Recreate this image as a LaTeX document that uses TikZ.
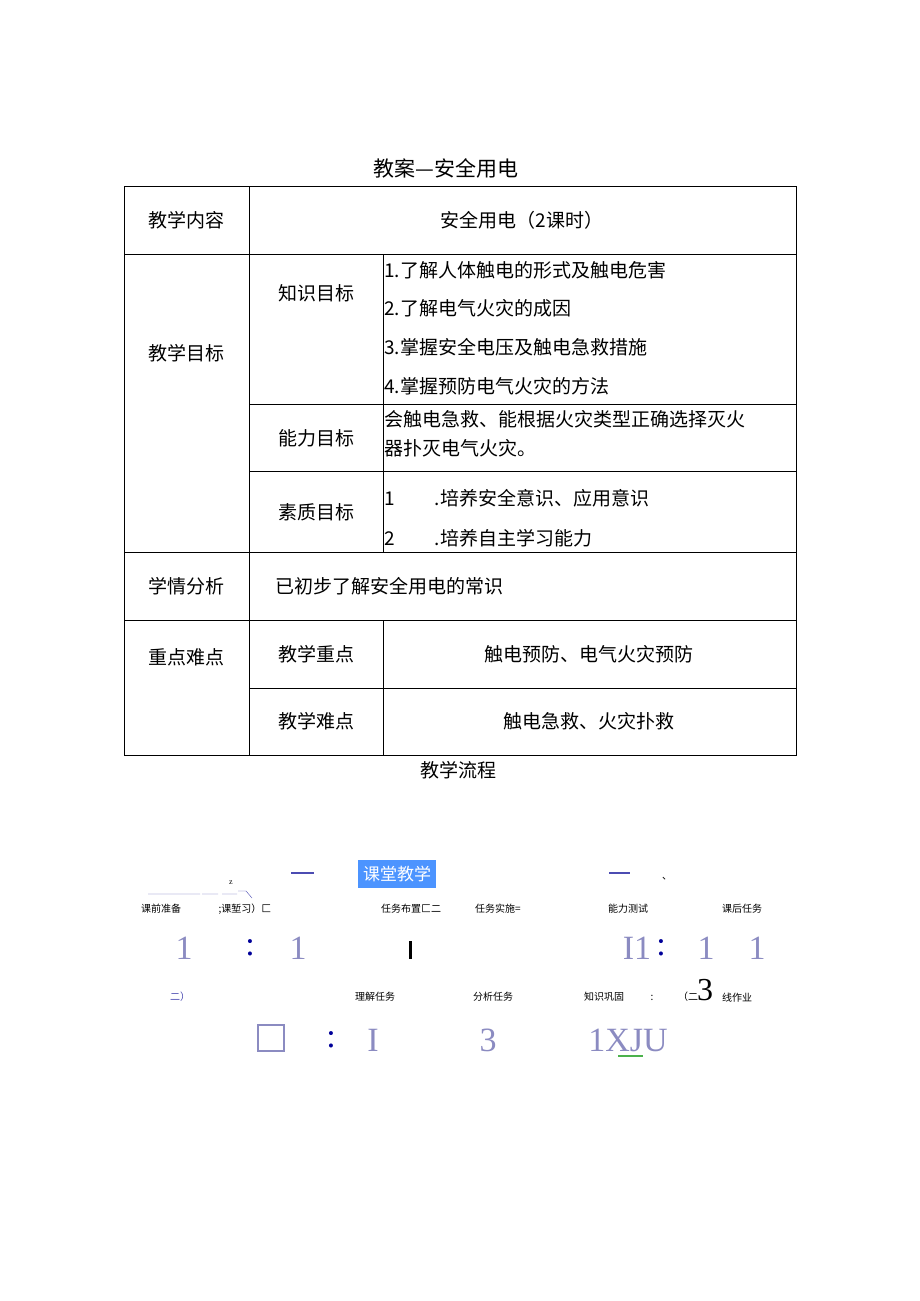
\documentclass[tikz,border=0pt]{standalone}
\usepackage{fontspec}
\setmainfont{Liberation Serif}
\newfontfamily\cjk{Noto Sans CJK SC}
\begin{document}
\begin{tikzpicture}[x=1pt,y=-1pt,
  cell/.style={font=\cjk\fontsize{19}{22}\selectfont,anchor=center,inner sep=0},
  lt/.style={font=\cjk\fontsize{19}{22}\selectfont,anchor=west,inner sep=0},
  sm/.style={font=\cjk\fontsize{10}{12}\selectfont,anchor=center,inner sep=0},
  big/.style={font=\fontsize{34}{36}\selectfont,text=blue!30!gray!70,anchor=center,inner sep=0},
  grid/.style={line width=0.8pt}]
\useasboundingbox (0,0) rectangle (920,1301);
\node[cell,font=\cjk\fontsize{21}{24}\selectfont] (title) at (446,168) {教案—安全用电};
\draw[grid] (124,186) rectangle (796,755);
\draw[grid] (249,186) -- (249,755);
\draw[grid] (383,254) -- (383,552) (383,620) -- (383,755);
\draw[grid] (124,254) -- (796,254) (124,552) -- (796,552) (124,620) -- (796,620);
\draw[grid] (249,404) -- (796,404) (249,471) -- (796,471) (249,688) -- (796,688);
\node[cell] (a1) at (186,220) {教学内容};
\node[cell] (a2) at (522,220) {安全用电（2课时）};
\node[cell] (b1) at (186,353) {教学目标};
\node[cell] (b2) at (316,293) {知识目标};
\node[lt] (b3) at (384,270) {1.了解人体触电的形式及触电危害};
\node[lt] (b4) at (384,308) {2.了解电气火灾的成因};
\node[lt] (b5) at (384,347) {3.掌握安全电压及触电急救措施};
\node[lt] (b6) at (384,386) {4.掌握预防电气火灾的方法};
\node[cell] (c1) at (316,438) {能力目标};
\node[lt] (c2) at (384,419) {会触电急救、能根据火灾类型正确选择灭火};
\node[lt] (c3) at (384,448) {器扑灭电气火灾。};
\node[cell] (d1) at (316,512) {素质目标};
\node[lt] (d2) at (384,498) {1\hspace{40pt}.培养安全意识、应用意识};
\node[lt] (d3) at (384,538) {2\hspace{40pt}.培养自主学习能力};
\node[cell] (e1) at (186,586) {学情分析};
\node[lt] (e2) at (275,586) {已初步了解安全用电的常识};
\node[cell] (f1) at (186,657) {重点难点};
\node[cell] (f2) at (316,654) {教学重点};
\node[cell] (f3) at (589,654) {触电预防、电气火灾预防};
\node[cell] (f4) at (316,721) {教学难点};
\node[cell] (f5) at (589,721) {触电急救、火灾扑救};
\node[cell] (g) at (458,770) {教学流程};
% flow
\node[fill=blue!60!cyan!70,text=white,font=\cjk\fontsize{17}{20}\selectfont,minimum width=78pt,minimum height=28pt,inner sep=0] (k) at (397,874) {课堂教学};
\draw[line width=1.2pt,blue!40!gray] (291,873) -- (314,873) (609,873) -- (630,873);
\node[sm] (dun) at (667,879) {、};
\node[sm,font=\fontsize{8}{9}\selectfont] (z) at (231,883) {z};
\draw[blue!40!gray] (148,894) -- (200,894) (202,894) -- (218,894) (222,894) -- (237,894) (238,891) -- (246,891) -- (252,898);
\node[sm] (t1) at (161,909) {课前准备};
\node[sm] (t2) at (245,909) {;课堑习）匚};
\node[sm] (t3) at (411,909) {任务布置匚二};
\node[sm] (t4) at (498,909) {任务实施=};
\node[sm] (t5) at (628,909) {能力测试};
\node[sm] (t6) at (742,909) {课后任务};
\node[big] (n1) at (184,948) {1};
\node[big,text=blue!60!black] (n2) at (250,948) {:};
\node[big] (n3) at (298,948) {1};
\node[draw=black,line width=2pt,minimum height=16pt,inner sep=0] (bar) at (410,950) {};
\node[big] (n4) at (637,948) {I1};
\node[big,text=blue!60!black] (n5) at (661,948) {:};
\node[big] (n6) at (706,948) {1};
\node[big] (n7) at (757,948) {1};
\node[sm,text=blue!40!gray] (s0) at (180,997) {二）};
\node[sm] (s1) at (375,997) {理解任务};
\node[sm] (s2) at (493,997) {分析任务};
\node[sm] (s3) at (604,997) {知识巩固};
\node[sm] (s4) at (652,998) {:};
\node[sm] (s5) at (688,997) {（二};
\node[inner sep=0,font=\fontsize{32}{34}\selectfont] (s6) at (705,990) {3};
\node[sm] (s7) at (737,998) {线作业};
\node[draw=blue!30!gray!70,line width=1.2pt,minimum width=26pt,minimum height=26pt,inner sep=0] (sq) at (271,1038) {};
\node[big,text=blue!60!black] (m1) at (331,1040) {:};
\node[big] (m2) at (373,1040) {I};
\node[big] (m3) at (488,1040) {3};
\node[big] (m4) at (628,1040) {1XJU};
\draw[line width=1.2pt,green!40!gray] (618,1056) -- (643,1056);
\end{tikzpicture}
\end{document}
